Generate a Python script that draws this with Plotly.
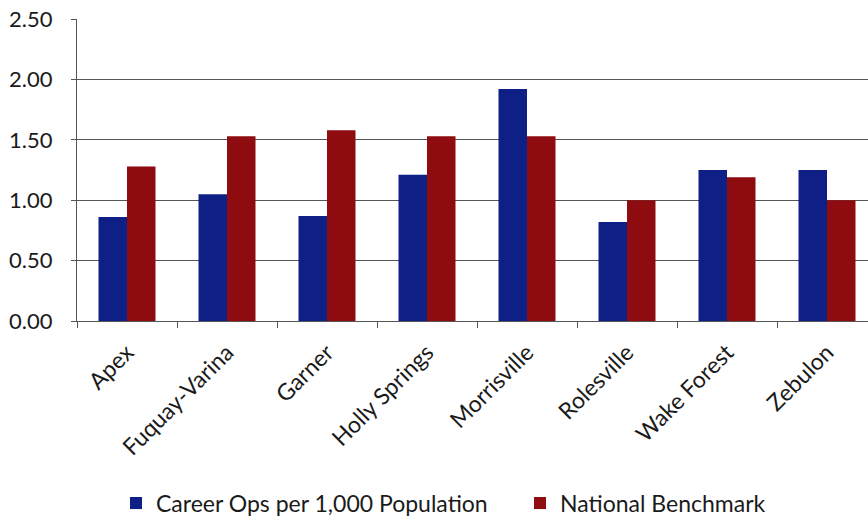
import plotly.graph_objects as go

# Fire operations staffing by town, compared with the national benchmark
towns = ["Apex", "Fuquay-Varina", "Garner", "Holly Springs",
         "Morrisville", "Rolesville", "Wake Forest", "Zebulon"]
career_ops = [0.86, 1.05, 0.87, 1.21, 1.92, 0.82, 1.25, 1.25]
benchmark = [1.28, 1.53, 1.58, 1.53, 1.53, 1.00, 1.19, 1.00]
y_ticks = [0.0, 0.5, 1.0, 1.5, 2.0, 2.5]

BLUE = "#0E1F85"
RED = "#8E0B0F"
FONT = "Lato, Carlito, 'Noto Sans', sans-serif"
PLOT_LEFT, PLOT_W = 77, 791

fig = go.Figure()
fig.add_trace(go.Bar(x=towns, y=career_ops, name="Career Ops per 1,000 Population",
                     marker=dict(color=BLUE, line=dict(width=0)), legend="legend"))
fig.add_trace(go.Bar(x=towns, y=benchmark, name="National Benchmark",
                     marker=dict(color=RED, line=dict(width=0)), legend="legend2"))

legend_common = dict(orientation="h", xanchor="left", y=-0.603, yanchor="middle",
                     font=dict(size=23), itemwidth=30, bgcolor="rgba(0,0,0,0)")

fig.update_layout(
    width=868, height=518,
    margin=dict(l=PLOT_LEFT, r=0, t=19, b=197, autoexpand=False),
    paper_bgcolor="white", plot_bgcolor="white",
    barmode="group", bargap=0.43, bargroupgap=0,
    font=dict(family=FONT, size=22, color="#1a1a1a"),
    showlegend=True,
    legend=dict(x=(116 - PLOT_LEFT) / PLOT_W, **legend_common),
    legend2=dict(x=(520 - PLOT_LEFT) / PLOT_W, **legend_common),
)
fig.update_xaxes(
    range=[-0.5, 7.41], tickangle=-45, showgrid=False, automargin=False,
    showline=True, linecolor="#555", linewidth=1,
    ticks="outside", tickson="boundaries", ticklen=6, tickcolor="#555",
    tickfont=dict(size=23), ticklabelstandoff=8,
)
fig.update_yaxes(
    range=[0, 2.5], tickvals=y_ticks, tickformat=".2f", automargin=False,
    showgrid=True, gridcolor="#555", gridwidth=1,
    showline=True, linecolor="#555", linewidth=1,
    ticks="outside", ticklen=5, tickcolor="#555",
    tickfont=dict(size=22), ticklabelstandoff=14, zeroline=False,
)

fig.write_html("out.html")
